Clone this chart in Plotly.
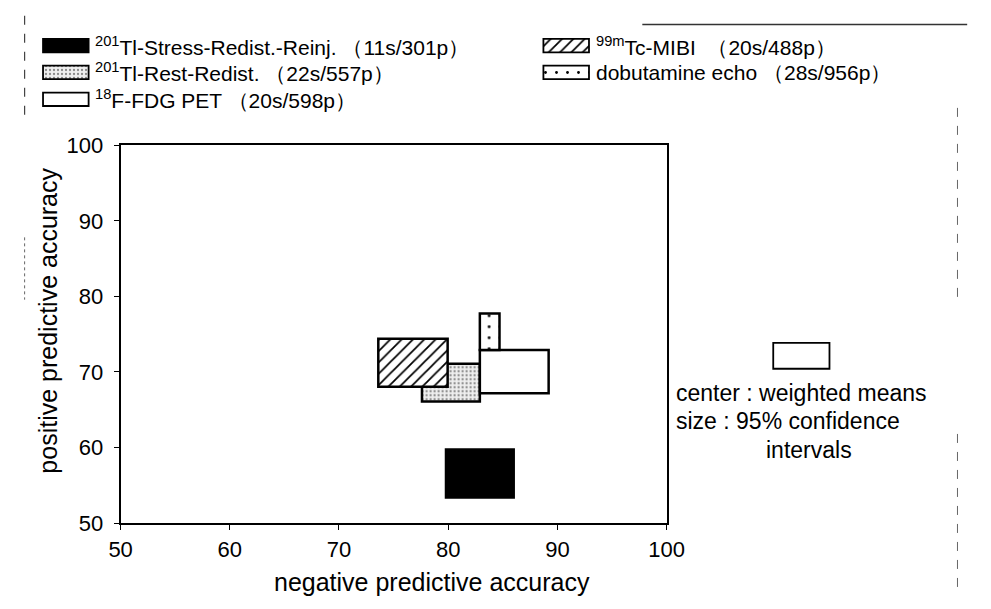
import plotly.graph_objects as go

# ---------------- data ----------------
methods = ["201Tl-Rest-Redist.", "99mTc-MIBI", "18F-FDG PET", "dobutamine echo", "201Tl-Stress-Redist.-Reinj."]
npa_low = [77.6, 73.6, 82.9, 82.9, 79.8]     # negative predictive accuracy, 95% CI low
npa_high = [82.9, 79.95, 89.2, 84.7, 86.0]   # negative predictive accuracy, 95% CI high
ppa_low = [66.1, 68.05, 67.2, 72.9, 53.4]    # positive predictive accuracy, 95% CI low
ppa_high = [71.1, 74.4, 72.9, 77.75, 59.75]  # positive predictive accuracy, 95% CI high

legend_labels = [
    "<sup>201</sup>Tl-Stress-Redist.-Reinj. （11s/301p）",
    "<sup>99m</sup>Tc-MIBI  （20s/488p）",
    "<sup>201</sup>Tl-Rest-Redist. （22s/557p）",
    "dobutamine echo （28s/956p）",
    "<sup>18</sup>F-FDG PET （20s/598p）",
]
x_ticks = [50, 60, 70, 80, 90, 100]
y_ticks = [50, 60, 70, 80, 90, 100]

# ---------------- styles ----------------
FONT = "Liberation Sans, Arial, Helvetica, sans-serif"
W, H = 991, 609
PL, PR, PT, PB = 112, 675, 139, 533   # plot area in pixels

styles = {
    "201Tl-Rest-Redist.": dict(color="#ececec", pattern=dict(shape=".", size=4, solidity=0.25,
                                                            fgcolor="#8a8a8a", bgcolor="#efefef", fillmode="replace")),
    "99mTc-MIBI": dict(color="white", pattern=dict(shape="/", size=8, solidity=0.22,
                                                   fgcolor="black", bgcolor="white", fillmode="replace")),
    "18F-FDG PET": dict(color="white", pattern=dict(shape="")),
    "dobutamine echo": dict(color="white", pattern=dict(shape=".", size=11, solidity=0.05,
                                                        fgcolor="black", bgcolor="white", fillmode="replace")),
    "201Tl-Stress-Redist.-Reinj.": dict(color="black", pattern=dict(shape="")),
}

fig = go.Figure()

for m, xl, xh, yl, yh in zip(methods, npa_low, npa_high, ppa_low, ppa_high):
    st = styles[m]
    fig.add_trace(go.Bar(
        x=[(xl + xh) / 2], width=[xh - xl], base=[yl], y=[yh - yl],
        marker=dict(color=st["color"], pattern=st["pattern"],
                    line=dict(color="black", width=2.5)),
        showlegend=False, xaxis="x", yaxis="y", hoverinfo="skip",
    ))

# ---------------- legend drawn on a pixel overlay axis ----------------
leg_order = ["201Tl-Stress-Redist.-Reinj.", "99mTc-MIBI", "201Tl-Rest-Redist.", "dobutamine echo", "18F-FDG PET"]
leg_pos = [(32, 35), (548, 35), (32, 63), (548, 63), (32, 91)]
SW, SH = 47, 14
for name, lab, (px, py) in zip(leg_order, legend_labels, leg_pos):
    st = styles[name]
    fig.add_trace(go.Bar(
        x=[px + SW / 2], width=[SW], base=[py - SH / 2], y=[SH],
        marker=dict(color=st["color"], pattern=st["pattern"],
                    line=dict(color="black", width=1.8)),
        showlegend=False, xaxis="x3", yaxis="y3", hoverinfo="skip",
    ))
    fig.add_annotation(x=px + SW + 5, y=py, xref="x3", yref="y3", text=lab,
                       showarrow=False, xanchor="left", yanchor="middle",
                       font=dict(family=FONT, size=21, color="black"))

# ---------------- explanatory box on the right ----------------
fig.add_shape(type="rect", xref="x3", yref="y3", x0=785, x1=843, y0=345, y1=372,
              line=dict(color="black", width=1.8), fillcolor="white")
for txt, yy, xx, anc in [("center : weighted means", 397, 683, "left"),
                         ("size : 95% confidence", 427, 683, "left"),
                         ("intervals", 457, 822, "center")]:
    fig.add_annotation(x=xx, y=yy, xref="x3", yref="y3", text=txt, showarrow=False,
                       xanchor=anc, yanchor="middle",
                       font=dict(family=FONT, size=23, color="black"))

# axis titles
fig.add_annotation(x=37, y=322, xref="x3", yref="y3", text="positive predictive accuracy",
                   textangle=-90, showarrow=False, xanchor="center", yanchor="middle",
                   font=dict(family=FONT, size=25, color="black"))
fig.add_annotation(x=433, y=594, xref="x3", yref="y3", text="negative predictive accuracy",
                   showarrow=False, xanchor="center", yanchor="middle",
                   font=dict(family=FONT, size=25, color="black"))

# scan artefact lines
fig.add_shape(type="line", xref="x3", yref="y3", x0=650, x1=985, y0=13, y1=13, line=dict(color="#333", width=1.5))
fig.add_shape(type="line", xref="x3", yref="y3", x0=13, x1=13, y0=4, y1=110, line=dict(color="#444", width=1.2, dash="dash"))
fig.add_shape(type="line", xref="x3", yref="y3", x0=13, x1=13, y0=235, y1=300, line=dict(color="#666", width=1, dash="dot"))
fig.add_shape(type="line", xref="x3", yref="y3", x0=975, x1=975, y0=100, y1=300, line=dict(color="#666", width=1, dash="dash"))
fig.add_shape(type="line", xref="x3", yref="y3", x0=975, x1=975, y0=440, y1=600, line=dict(color="#666", width=1, dash="dash"))

axis_common = dict(showline=True, linecolor="black", linewidth=2, mirror=True,
                   showgrid=False, zeroline=False, ticks="outside", ticklen=5,
                   tickwidth=1.2, tickcolor="black",
                   tickfont=dict(family=FONT, size=22, color="black"))

fig.update_layout(
    width=W, height=H,
    margin=dict(l=0, r=0, t=0, b=0),
    paper_bgcolor="white", plot_bgcolor="rgba(0,0,0,0)",
    barmode="overlay", showlegend=False,
    xaxis=dict(domain=[PL / W, PR / W], range=[50, 100], tickvals=x_ticks, anchor="y", **axis_common),
    yaxis=dict(domain=[(H - PB) / H, (H - PT) / H], range=[50, 100], tickvals=y_ticks, anchor="x",
               ticklabelstandoff=6, **axis_common),
    xaxis3=dict(domain=[0, 1], range=[0, W], visible=False, anchor="y3", fixedrange=True),
    yaxis3=dict(domain=[0, 1], range=[H, 0], visible=False, anchor="x3", fixedrange=True),
)

fig.write_html("out.html")
